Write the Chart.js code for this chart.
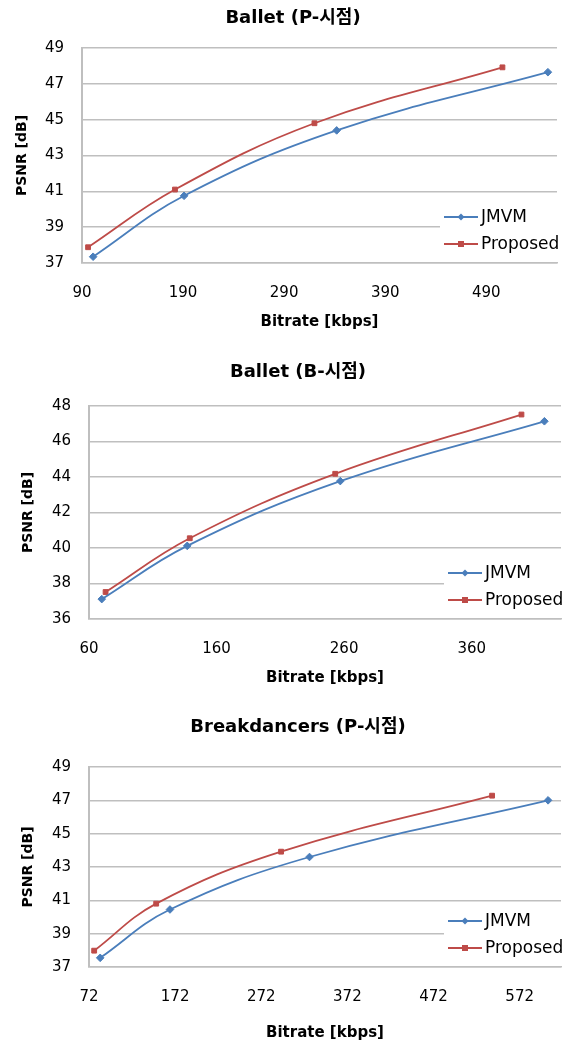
<!DOCTYPE html>
<html>
<head>
<meta charset="utf-8">
<script src="https://cdn.jsdelivr.net/npm/chart.js@4.4.1/dist/chart.umd.min.js"></script>
<style>
  html, body { margin: 0; padding: 0; background: #fff; overflow: hidden; }
  body { width: 566px; height: 1043px; position: relative; }
  .box { position: absolute; left: 0; width: 566px; }
</style>
</head>
<body>
<div class="box" id="box1" style="top:0;height:340px"><canvas id="c1"></canvas></div>
<div class="box" id="box2" style="top:345px;height:345px"><canvas id="c2"></canvas></div>
<div class="box" id="box3" style="top:695px;height:348px"><canvas id="c3"></canvas></div>
<script>
// chart data
const seriesNames = ["JMVM", "Proposed"];

// Ballet (P-시점)
const balletP_jmvmRate = [101, 191, 342, 551];
const balletP_jmvmPsnr = [37.35, 40.75, 44.4, 47.65];
const balletP_propRate = [96, 182, 320, 506];
const balletP_propPsnr = [37.88, 41.1, 44.8, 47.92];
const balletP_xTicks = [90, 190, 290, 390, 490];

// Ballet (B-시점)
const balletB_jmvmRate = [70, 137, 257, 417];
const balletB_jmvmPsnr = [37.12, 40.12, 43.77, 47.14];
const balletB_propRate = [73, 139, 253, 399];
const balletB_propPsnr = [37.52, 40.55, 44.18, 47.52];
const balletB_xTicks = [60, 160, 260, 360];

// Breakdancers (P-시점)
const breakP_jmvmRate = [85, 166, 328, 605];
const breakP_jmvmPsnr = [37.55, 40.45, 43.6, 47.0];
const breakP_propRate = [78, 150, 295, 540];
const breakP_propPsnr = [37.98, 40.8, 43.92, 47.28];
const breakP_xTicks = [72, 172, 272, 372, 472, 572];

const BLUE = "#4a7ebb";
const RED = "#be4b48";
const GRID = "#bfbfbf";
const FONT = "'DejaVu Sans', 'Noto Sans CJK KR', sans-serif";

function toPoints(xs, ys) {
  return xs.map((x, i) => ({ x: x, y: ys[i] }));
}

// nudge the title box so the title sits a bit right of the canvas centre
const titleShift = {
  id: "titleShift",
  afterLayout(chart, args, opts) {
    if (chart.titleBlock) chart.titleBlock.left += opts.left;
  }
};

// legend drawn in the lower right corner, over the grid (like the Excel chart)
const cornerLegend = {
  id: "cornerLegend",
  afterDatasetsDraw(chart, args, opts) {
    const ctx = chart.ctx;
    const area = chart.chartArea;
    const x0 = area.right - opts.dx;
    ctx.save();
    ctx.fillStyle = "#fff";
    ctx.fillRect(x0 - 4, area.bottom - opts.row1 - 14, 140, opts.row1 + 13);
    chart.data.datasets.forEach((ds, i) => {
      const y = area.bottom - opts.row1 + i * opts.gap;
      ctx.strokeStyle = ds.borderColor;
      ctx.lineWidth = 2;
      ctx.beginPath();
      ctx.moveTo(x0, y);
      ctx.lineTo(x0 + 34, y);
      ctx.stroke();
      ctx.fillStyle = ds.borderColor;
      const cx = x0 + 17;
      if (ds.pointStyle === "rectRot") {
        ctx.beginPath();
        ctx.moveTo(cx, y - 3.5);
        ctx.lineTo(cx + 3.5, y);
        ctx.lineTo(cx, y + 3.5);
        ctx.lineTo(cx - 3.5, y);
        ctx.closePath();
        ctx.fill();
      } else {
        ctx.fillRect(cx - 3, y - 3, 6, 6);
      }
      ctx.fillStyle = "#000";
      ctx.font = "17px " + FONT;
      ctx.textBaseline = "middle";
      ctx.textAlign = "left";
      ctx.fillText(ds.label, x0 + 37, y + 1);
    });
    ctx.restore();
  }
};

function makeChart(id, cfg) {
  const ticksX = cfg.xTicks;
  return new Chart(document.getElementById(id), {
    type: "scatter",
    data: {
      datasets: [
        {
          label: seriesNames[0],
          data: toPoints(cfg.jRate, cfg.jPsnr),
          showLine: true,
          borderColor: BLUE,
          backgroundColor: BLUE,
          borderWidth: 1.8,
          tension: 0.4,
          pointStyle: "rectRot",
          pointRadius: 3.8,
          pointBorderWidth: 1
        },
        {
          label: seriesNames[1],
          data: toPoints(cfg.pRate, cfg.pPsnr),
          showLine: true,
          borderColor: RED,
          backgroundColor: RED,
          borderWidth: 1.8,
          tension: 0.4,
          pointStyle: "rect",
          pointRadius: 3.4,
          pointBorderWidth: 1
        }
      ]
    },
    options: {
      responsive: true,
      maintainAspectRatio: false,
      animation: false,
      layout: { padding: { left: 0, top: 0, bottom: 0, right: cfg.padRight } },
      plugins: {
        legend: { display: false },
        tooltip: { enabled: false },
        title: {
          display: true,
          text: cfg.title,
          color: "#000",
          font: { family: FONT, size: 18, weight: "bold", lineHeight: 1.2 },
          padding: { top: cfg.titleTop, bottom: cfg.titleBottom }
        },
        titleShift: { left: cfg.titleShift },
        cornerLegend: { dx: 113, row1: 46, gap: 27 }
      },
      scales: {
        x: {
          type: "linear",
          min: cfg.xMin,
          max: cfg.xMax,
          afterBuildTicks: (axis) => { axis.ticks = ticksX.map(v => ({ value: v })); },
          afterFit: (axis) => { axis.height = cfg.xHeight; },
          grid: { display: false, drawTicks: false },
          border: { display: true, color: GRID, width: 1.5 },
          ticks: {
            color: "#000",
            padding: 21,
            maxRotation: 0,
            autoSkip: false,
            font: { family: FONT, size: 15 }
          },
          title: {
            display: true,
            text: "Bitrate [kbps]",
            color: "#000",
            font: { family: FONT, size: 15, weight: "bold", lineHeight: 1.2 },
            padding: { top: 0, bottom: cfg.xTitleBottom }
          }
        },
        y: {
          min: cfg.yMin,
          max: cfg.yMax,
          afterFit: (axis) => { axis.width = cfg.yWidth; },
          grid: { color: GRID, lineWidth: 1.5, drawTicks: false },
          border: { display: true, color: GRID, width: 2 },
          ticks: {
            stepSize: 2,
            color: "#000",
            padding: 18,
            font: { family: FONT, size: 15 }
          },
          title: {
            display: true,
            text: "PSNR [dB]",
            color: "#000",
            font: { family: FONT, size: 14, weight: "bold", lineHeight: 1.2 },
            padding: { top: cfg.yTitleTop, bottom: 0 }
          }
        }
      }
    },
    plugins: [titleShift, cornerLegend]
  });
}

makeChart("c1", {
  title: "Ballet (P-시점)",
  jRate: balletP_jmvmRate, jPsnr: balletP_jmvmPsnr,
  pRate: balletP_propRate, pPsnr: balletP_propPsnr,
  xTicks: balletP_xTicks, xMin: 90, xMax: 560, yMin: 37, yMax: 49,
  padRight: 9, titleShift: 29, titleTop: 7.2, titleBottom: 19.2,
  yWidth: 82, xHeight: 77, xTitleBottom: 9, yTitleTop: 14.1
});

makeChart("c2", {
  title: "Ballet (B-시점)",
  jRate: balletB_jmvmRate, jPsnr: balletB_jmvmPsnr,
  pRate: balletB_propRate, pPsnr: balletB_propPsnr,
  xTicks: balletB_xTicks, xMin: 60, xMax: 430, yMin: 36, yMax: 48,
  padRight: 2, titleShift: 32, titleTop: 16.9, titleBottom: 22.5,
  yWidth: 89, xHeight: 71, xTitleBottom: 3, yTitleTop: 19.6
});

makeChart("c3", {
  title: "Breakdancers (P-시점)",
  jRate: breakP_jmvmRate, jPsnr: breakP_jmvmPsnr,
  pRate: breakP_propRate, pPsnr: breakP_propPsnr,
  xTicks: breakP_xTicks, xMin: 72, xMax: 620, yMin: 37, yMax: 49,
  padRight: 1, titleShift: 31, titleTop: 21.5, titleBottom: 28.9,
  yWidth: 89, xHeight: 76, xTitleBottom: 1, yTitleTop: 19.6
});
</script>
</body>
</html>
